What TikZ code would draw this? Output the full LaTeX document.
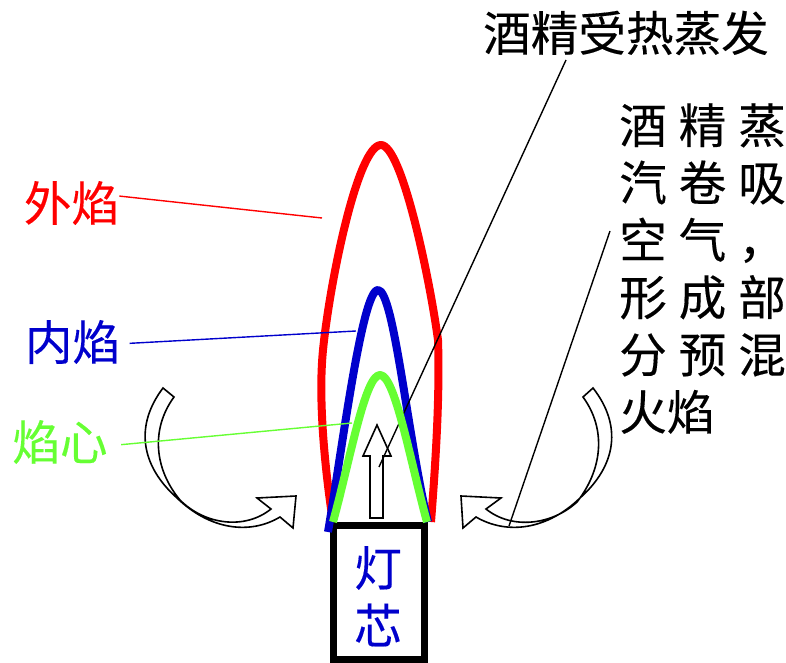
\documentclass[tikz,border=0pt]{standalone}
\usepackage{fontspec}
\newfontfamily\cjk[FakeBold=0.25]{Noto Sans CJK SC}
\newfontfamily\cjkwide[LetterSpace=25,FakeBold=0.25]{Noto Sans CJK SC}
\definecolor{flameblue}{rgb}{0,0,0.8}
\definecolor{flamegreen}{rgb}{0.4,1,0.2}
\tikzset{
  label text/.style={inner sep=0pt, font=\cjk\fontsize{35.7}{43}\selectfont},
  flame/.style={line width=6pt, line cap=butt, line join=round},
  leader/.style={line width=1.05pt},
  airflow/.style={draw=black, fill=white, line width=1.2pt, line join=miter},
}
\begin{document}
\begin{tikzpicture}[x=0.75pt,y=-0.75pt]
\useasboundingbox (0,0) rectangle (786,663);

% wick
\draw[line width=5.25pt] (333.5,525) rectangle (424.5,659);
\node[label text, text=flameblue] (wickA) at (378,568) {灯};
\node[label text, text=flameblue] (wickB) at (378,625) {芯};

% outer and inner flame
\draw[flame, red] (333,522) .. controls (325,470) and (318,400) .. (323,350)
  .. controls (330,280) and (358,145) .. (381,145)
  .. controls (402,145) and (430,280) .. (438,340)
  .. controls (440,400) and (435,470) .. (431,522);
\draw[flame, flameblue] (328,532) .. controls (342,450) and (362,290) .. (378,290)
  .. controls (394,290) and (408,440) .. (428,522);

% rising vapour arrow
\draw[airflow] (377,425) -- (391,456) -- (383,456) -- (383,518) -- (370,518)
  -- (370,456) -- (363,456) -- cycle;

% labels
\node[label text, text=red] (outer) at (71.5,203) {外焰};
\node[label text, text=flameblue] (inner) at (72.5,342) {内焰};
\node[label text, text=flamegreen] (core) at (60,442) {焰心};
\node[label text] (evap) at (626,33) {酒精受热蒸发};
\node[label text, anchor=north west, align=left, font=\cjkwide\fontsize{35.7}{43}\selectfont]
  (mix) at (619,103) {酒精蒸\\汽卷吸\\空气，\\形成部\\分预混\\\cjk 火焰};

% curling air arrows
\draw[airflow] (163,388) -- (174,397) .. controls (150,430) and (155,470) .. (180,500)
  .. controls (205,525) and (245,530) .. (271,509) -- (257,498) -- (296,496) -- (293,528)
  -- (280,517) .. controls (250,535) and (210,530) .. (177,498)
  .. controls (140,465) and (135,425) .. (163,388) -- cycle;
\draw[airflow] (593,388) -- (583,397) .. controls (607,430) and (602,470) .. (577,502)
  .. controls (552,525) and (512,530) .. (486,509) -- (501,498) -- (461,496) -- (463,528)
  -- (476,517) .. controls (507,535) and (547,530) .. (580,498)
  .. controls (617,465) and (622,425) .. (593,388) -- cycle;

% leader lines
\coordinate (outerEnd) at (322,218);
\coordinate (innerEnd) at (356,331);
\coordinate (coreEnd) at (352,423);
\coordinate (evapStart) at (566,60);
\coordinate (evapEnd) at (379,467);
\coordinate (mixStart) at (610,231);
\coordinate (mixEnd) at (509,526);
\draw[leader, red] ([yshift=5.2pt]outer.east) -- (outerEnd);
\draw[leader, flameblue] ([xshift=7pt,yshift=-1pt]inner.east) -- (innerEnd);
\draw[leader, flamegreen] ([yshift=-2pt,xshift=10pt]core.east) -- (coreEnd);
\draw[leader] (evapStart) -- (evapEnd);
\draw[leader] (mixStart) -- (mixEnd);

% flame core drawn over the leader
\draw[flame, flamegreen] (333,522) .. controls (350,460) and (365,375) .. (380,375)
  .. controls (395,375) and (410,460) .. (427,522);
\end{tikzpicture}
\end{document}
